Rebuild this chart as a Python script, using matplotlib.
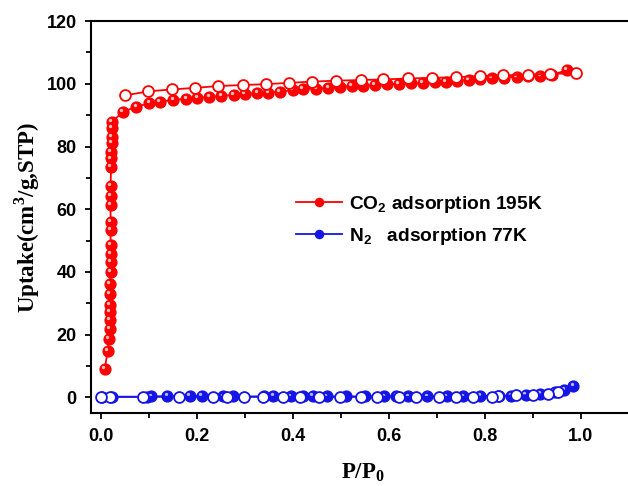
import numpy as np
import matplotlib.pyplot as plt
import matplotlib.transforms as mtransforms

# CO2 isotherm at 195 K
co2_ads_p = [0.008, 0.014, 0.017, 0.018, 0.018, 0.019, 0.019, 0.019, 0.019, 0.020,
             0.020, 0.020, 0.020, 0.020, 0.020, 0.020, 0.020, 0.020, 0.021, 0.021,
             0.021, 0.022, 0.022, 0.022, 0.023, 0.046, 0.074, 0.101, 0.123, 0.151,
             0.178, 0.201, 0.226, 0.251, 0.277, 0.300, 0.326, 0.349, 0.373, 0.400,
             0.420, 0.449, 0.474, 0.497, 0.522, 0.546, 0.570, 0.595, 0.620, 0.645,
             0.670, 0.695, 0.718, 0.742, 0.766, 0.790, 0.814, 0.840, 0.866, 0.890,
             0.915, 0.940, 0.970]
co2_ads_v = [9.1, 14.9, 18.6, 21.8, 24.7, 27.1, 29.6, 33.0, 36.2, 39.9,
             43.1, 45.8, 48.5, 53.3, 55.9, 61.3, 64.3, 67.4, 73.5, 76.2,
             78.3, 81.0, 83.1, 85.8, 87.9, 91.1, 92.7, 93.8, 94.3, 94.9,
             95.2, 95.6, 95.7, 96.2, 96.4, 96.7, 97.0, 97.2, 97.5, 98.0,
             98.3, 98.5, 98.7, 98.9, 99.3, 99.4, 99.6, 99.8, 100.0, 100.2,
             100.3, 100.5, 100.7, 101.0, 101.3, 101.5, 101.8, 102.0, 102.3, 102.4,
             102.6, 102.9, 104.3]
co2_des_p = [0.990, 0.935, 0.890, 0.838, 0.790, 0.740, 0.689, 0.640, 0.588, 0.542,
             0.490, 0.439, 0.392, 0.344, 0.295, 0.244, 0.196, 0.147, 0.099, 0.050]
co2_des_v = [103.3, 103.2, 102.9, 102.7, 102.5, 102.1, 101.9, 101.7, 101.4, 101.2,
             101.0, 100.7, 100.3, 99.9, 99.6, 99.3, 98.7, 98.2, 97.6, 96.3]

# N2 isotherm at 77 K
n2_ads_p = [0.003, 0.022, 0.095, 0.105, 0.138, 0.185, 0.210, 0.255, 0.275, 0.340,
            0.359, 0.395, 0.420, 0.442, 0.470, 0.510, 0.550, 0.590, 0.615, 0.640,
            0.680, 0.720, 0.755, 0.790, 0.830, 0.855, 0.885, 0.915, 0.945, 0.965,
            0.984]
n2_ads_v = [0.1, 0.2, 0.2, 0.3, 0.4, 0.4, 0.4, 0.3, 0.3, 0.3,
            0.4, 0.3, 0.3, 0.4, 0.3, 0.3, 0.3, 0.3, 0.4, 0.3,
            0.3, 0.3, 0.3, 0.4, 0.5, 0.6, 0.8, 1.1, 1.6, 2.3,
            3.7]
n2_des_p = [0.953, 0.932, 0.900, 0.865, 0.827, 0.814, 0.776, 0.740, 0.705, 0.656,
            0.620, 0.576, 0.541, 0.497, 0.455, 0.415, 0.380, 0.338, 0.298, 0.262,
            0.233, 0.163, 0.088, 0.019, 0.001]
n2_des_v = [1.8, 1.2, 0.7, 0.7, 0.3, 0.2, 0.2, 0.2, 0.2, 0.2,
            0.2, 0.2, 0.2, 0.2, 0.2, 0.2, 0.2, 0.2, 0.2, 0.2,
            0.2, 0.2, 0.2, 0.2, 0.1]

RED = "#ff0000"
BLUE = "#1414e6"
tick_font = {"family": "Liberation Sans", "weight": "bold", "size": 13}
label_font = {"family": "Liberation Serif", "weight": "bold", "size": 16.5}

fig = plt.figure(figsize=(6.28, 4.86), dpi=100)
# frame runs past the right edge, so no right spine shows
ax = fig.add_axes([0.1455, 0.150, 0.8637, 0.8066])


def ball(ax, x, y, color, hi, label=None):
    # filled "sphere" markers: solid disc plus a small offset highlight
    line, = ax.plot(x, y, "-o", color=color, lw=1.3, ms=7.8, mec=color,
                    mfc=color, label=label, zorder=3)
    shift = mtransforms.offset_copy(ax.transData, fig=fig, x=-1.2, y=1.4,
                                    units="points")
    ax.plot(x, y, "o", ms=2.4, color=hi, mec="none", transform=shift,
            zorder=3.5)
    return line


def hollow(ax, x, y, color):
    ax.plot(x, y, "-o", color=color, lw=1.3, ms=7.8, mec=color, mfc="white",
            mew=1.3, zorder=4)


h1 = ball(ax, co2_ads_p, co2_ads_v, RED, "#ffc0c0",
          r"CO$_\mathregular{2}$ adsorption 195K")
hollow(ax, co2_des_p, co2_des_v, RED)
h2 = ball(ax, n2_ads_p, n2_ads_v, BLUE, "#b8b8ff",
          r"N$_\mathregular{2}$   adsorption 77K")
hollow(ax, n2_des_p, n2_des_v, BLUE)

ax.set_xlim(-0.02, 1.11)
ax.set_ylim(-5, 120)
ax.set_xticks([0.0, 0.2, 0.4, 0.6, 0.8, 1.0])
ax.set_xticks(np.arange(0.1, 1.1, 0.2), minor=True)
ax.set_yticks([0, 20, 40, 60, 80, 100, 120])
ax.set_yticks(np.arange(10, 120, 20), minor=True)
ax.set_xticklabels(["0.0", "0.2", "0.4", "0.6", "0.8", "1.0"], fontdict=tick_font)
ax.set_yticklabels(["0", "20", "40", "60", "80", "100", "120"], fontdict=tick_font)
ax.tick_params(which="major", direction="out", length=4.5, width=1.3, pad=6)
ax.tick_params(which="minor", direction="out", length=3.5, width=1.3)
for s in ax.spines.values():
    s.set_linewidth(1.5)

ax.set_ylabel(r"Uptake(cm$^\mathregular{3}$/g,STP)", fontdict=label_font,
              labelpad=3)
ax.set_xlabel(r"P/P$_\mathregular{0}$", fontdict=label_font, labelpad=12)

leg = ax.legend(handles=[h1, h2], loc="center left",
                bbox_to_anchor=(0.378, 0.492), frameon=False, borderpad=0,
                borderaxespad=0, handlelength=2.4, handletextpad=0.35,
                labelspacing=0.55, markerscale=0.75,
                prop={"family": "Liberation Sans", "weight": "bold", "size": 13.8})

fig.savefig("out.png", dpi=100)
